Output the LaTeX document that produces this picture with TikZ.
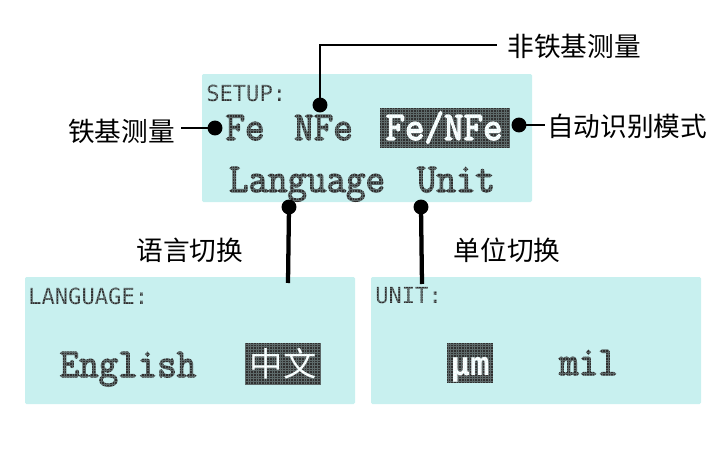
\documentclass[tikz,border=0pt]{standalone}
\usepackage{fontspec}
\setmainfont{Liberation Sans}
\newfontfamily\cjkfont{Noto Sans CJK SC}
\newfontfamily\lcdmono{Latin Modern Mono}[FakeBold=3.2]
\newfontfamily\lcdsans{DejaVu Sans Mono}
\newcommand{\tallt}[1]{\scalebox{1}[1.08]{#1}}
\definecolor{screen}{HTML}{C8F0EF}
\definecolor{lcdtext}{HTML}{303030}
\definecolor{lcdhigh}{HTML}{303030}
\tikzset{
  screenbox/.style={fill=screen,draw=none,rounded corners=1pt},
  title/.style={anchor=base west,inner sep=0,text=lcdtext,font=\lcdsans\fontsize{16.6}{18}\selectfont},
  item/.style={anchor=base,inner sep=0,text=lcdtext,font=\lcdmono\fontsize{28.4}{30}\selectfont},
  itemsel/.style={anchor=base,inner sep=0,text=white,font=\lcdmono\fontsize{28.4}{30}\selectfont},
  selbox/.style={fill=lcdhigh,draw=none},
  lcdgrid/.style={draw=screen,line width=0.3pt,step=2pt,opacity=0.3},
  dot/.style={circle,fill=black,inner sep=0,minimum size=11.2pt},
  label/.style={inner sep=0,text=black,font=\cjkfont\fontsize{20}{22}\selectfont},
  thinline/.style={draw=black,line width=1.6pt},
  thickline/.style={draw=black,line width=3.2pt},
}
\begin{document}
\begin{tikzpicture}[x=0.75pt,y=-0.75pt]
\useasboundingbox (0,0) rectangle (726,450);
% screens
\fill[screenbox] (202,74) rectangle (532,202);
\fill[screenbox] (25,277) rectangle (355,404);
\fill[screenbox] (371,277) rectangle (701,404);
\fill[selbox] (380,108) rectangle (510,148);
\fill[selbox] (245,343) rectangle (321,385);
\fill[selbox] (447,343) rectangle (493,383);
% screen texts
\node[title] (setup) at (206,101) {SETUP:};
\node[item] (fe) at (245,140) {\tallt{Fe}};
\node[item] (nfe) at (323.5,140) {\tallt{NFe}};
\node[itemsel] (fenfe) at (444,140) {\tallt{Fe/NFe}};
\node[item] (lang) at (307,192) {\tallt{Language}};
\node[item] (unit) at (456,192) {\tallt{Unit}};
\node[title] (langtitle) at (28,304) {LANGUAGE:};
\node[item] (english) at (128,377) {\tallt{English}};
\node[itemsel,anchor=center,font=\cjkfont\fontsize{25}{26}\selectfont] (zh) at (283,364) {中文};
\node[title] (unittitle) at (375,303) {UNIT:};
\node[itemsel,font=\lcdsans\bfseries\fontsize{24.4}{26}\selectfont] (um) at (470,375) {μm};
\node[item] (mil) at (588.5,375) {\tallt{mil}};
% LCD dot matrix
\draw[lcdgrid] (203,75) grid (531,201);
\draw[lcdgrid] (26,278) grid (354,403);
\draw[lcdgrid] (372,278) grid (700,403);
% dots
\node[dot] (dfe) at (215,128) {};
\node[dot] (dnfe) at (320,105) {};
\node[dot] (dauto) at (519,125) {};
\node[dot] (dlang) at (289,207) {};
\node[dot] (dunit) at (421,207) {};
% labels
\node[label] (lfe) at (121.5,131) {铁基测量};
\node[label] (lnfe) at (574,46) {非铁基测量};
\node[label] (lauto) at (627,126) {自动识别模式};
\node[label] (llang) at (190,250) {语言切换};
\node[label] (lunit) at (507,250) {单位切换};
\coordinate (elang) at (288,283);
\coordinate (eunit) at (422,284);
\coordinate (efe) at (181,128);
\coordinate (enfe) at (497,45);
\coordinate (eauto) at (545,125);
% connectors
\draw[thinline] (dfe.center) -- (efe);
\draw[thinline] (dnfe.center) |- (enfe);
\draw[thinline] (dauto.center) -- (eauto);
\draw[thickline] (dlang.center) -- (elang);
\draw[thickline] (dunit.center) -- (eunit);
\end{tikzpicture}
\end{document}
